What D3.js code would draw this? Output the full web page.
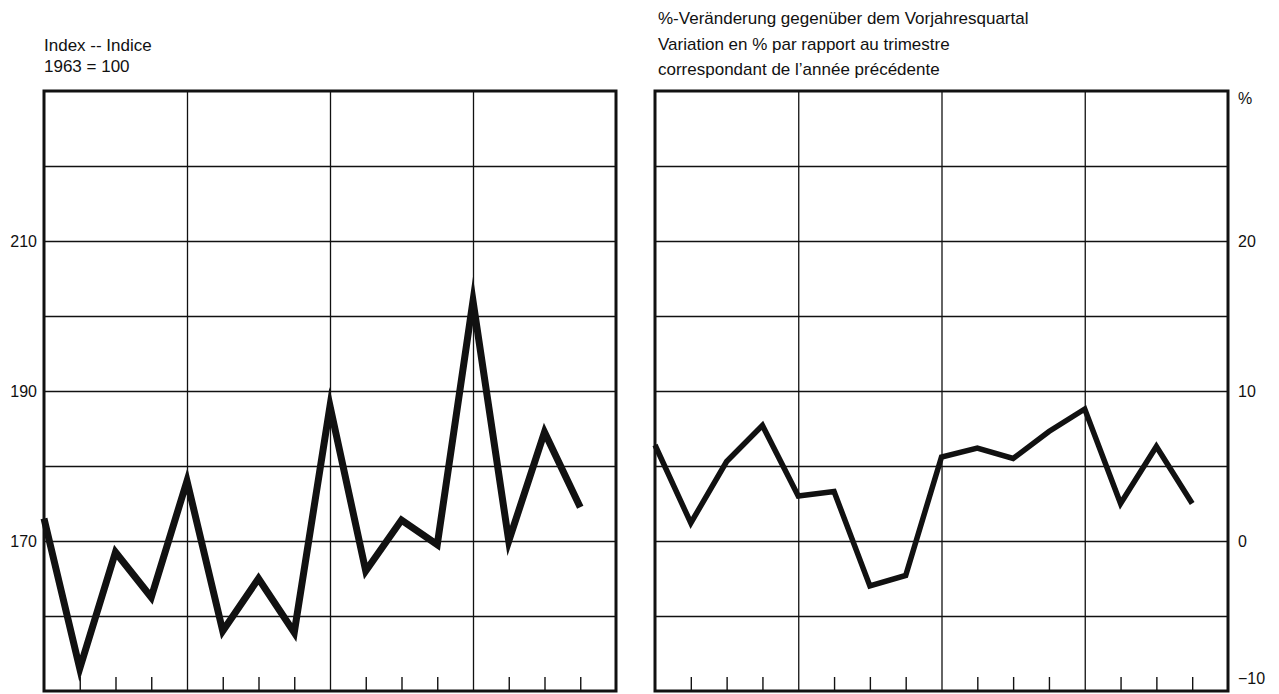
<!DOCTYPE html>
<html>
<head>
<meta charset="utf-8">
<script src="https://cdn.jsdelivr.net/npm/d3@7"></script>
<style>
  html, body { margin: 0; padding: 0; background: #fff; }
  svg { display: block; }
  text { font-family: "Liberation Sans", Arial, Helvetica, sans-serif; fill: #111; }
</style>
</head>
<body>
<svg id="chart" width="1279" height="694"></svg>
<script>
// Quarter positions (0 = first quarter of the first year, 16 quarters across)
const quarters = d3.range(16);

// Index, 1963 = 100
const indexValues = [173, 153, 168.5, 162.5, 178, 158, 165, 157.8,
                     188, 166, 172.8, 169.5, 202, 170, 184.5, 174.5];

// Change against the same quarter of the previous year, in %
const changeValues = [6.4, 1.2, 5.3, 7.7, 3.0, 3.3, -3.0, -2.3,
                      5.6, 6.2, 5.5, 7.3, 8.8, 2.5, 6.3, 2.5];

const indexTicks = [170, 190, 210];
const changeTicks = [-10, 0, 10, 20];

const leftTitle = ["Index -- Indice", "1963 = 100"];
const rightTitle = ["%-Veränderung gegenüber dem Vorjahresquartal",
                    "Variation en % par rapport au trimestre",
                    "correspondant de l\u2019année précédente"];

const svg = d3.select("#chart");
const plotTop = 91, plotBottom = 691;

function panel(x0, x1, yDomain, gridStep, values, lineWidth) {
  const g = svg.append("g");
  const x = d3.scaleLinear().domain([0, 16]).range([x0, x1]);
  const y = d3.scaleLinear().domain(yDomain).range([plotBottom, plotTop]);

  // horizontal grid lines
  const hVals = d3.range(yDomain[0] + gridStep, yDomain[1], gridStep);
  g.append("g")
    .attr("transform", `translate(${x0},0)`)
    .call(d3.axisLeft(y).tickValues(hVals).tickSize(-(x1 - x0)).tickFormat(""))
    .call(a => a.select(".domain").remove())
    .call(a => a.selectAll("line").attr("stroke", "#111").attr("stroke-width", 1.4));

  // year separators
  g.append("g")
    .attr("transform", `translate(0,${plotBottom})`)
    .call(d3.axisBottom(x).tickValues([4, 8, 12]).tickSize(-(plotBottom - plotTop)).tickFormat(""))
    .call(a => a.select(".domain").remove())
    .call(a => a.selectAll("line").attr("stroke", "#111").attr("stroke-width", 1.3));

  // quarter ticks along the bottom
  g.append("g")
    .attr("transform", `translate(0,${plotBottom})`)
    .call(d3.axisBottom(x).tickValues(quarters.filter(q => q % 4 !== 0)).tickSize(-14).tickFormat(""))
    .call(a => a.select(".domain").remove())
    .call(a => a.selectAll("line").attr("stroke", "#111").attr("stroke-width", 1.4));

  // frame
  g.append("rect")
    .attr("x", x0).attr("y", plotTop)
    .attr("width", x1 - x0).attr("height", plotBottom - plotTop)
    .attr("fill", "none").attr("stroke", "#111").attr("stroke-width", 3);

  // data line
  g.append("path")
    .datum(values)
    .attr("fill", "none")
    .attr("stroke", "#111")
    .attr("stroke-width", lineWidth)
    .attr("stroke-linejoin", "miter")
    .attr("stroke-miterlimit", 12)
    .attr("d", d3.line().x((d, i) => x(i)).y(d => y(d)));

  return { g, x, y };
}

// Left panel: index
const L = panel(44, 616, [150, 230], 10, indexValues, 7);
L.g.append("g")
  .attr("transform", "translate(44,0)")
  .call(d3.axisLeft(L.y).tickValues(indexTicks).tickSize(0).tickPadding(7))
  .call(a => a.select(".domain").remove())
  .call(a => a.selectAll("text").style("font-size", "16px").attr("fill", "#111")
    .style("font-family", "'Liberation Sans', Arial, sans-serif"));

svg.append("text").attr("x", 44).attr("y", 51).style("font-size", "17px").text(leftTitle[0]);
svg.append("text").attr("x", 44).attr("y", 72).style("font-size", "17px").text(leftTitle[1]);

// Right panel: percentage change
const R = panel(655, 1228, [-10, 30], 5, changeValues, 5.5);
R.g.append("g")
  .attr("transform", "translate(1228,0)")
  .call(d3.axisRight(R.y).tickValues(changeTicks).tickSize(0).tickPadding(10))
  .call(a => a.select(".domain").remove())
  .call(a => a.selectAll("text").style("font-size", "16px").attr("fill", "#111")
    .style("font-family", "'Liberation Sans', Arial, sans-serif"))
  .call(a => a.selectAll(".tick").filter(d => d === -10).select("text").attr("dy", "-0.5em"));

svg.append("text").attr("x", 1238).attr("y", 104).style("font-size", "16px").text("%");

rightTitle.forEach((t, i) => {
  svg.append("text").attr("x", 658).attr("y", 24 + i * 25.5).style("font-size", "17px").text(t);
});
</script>
</body>
</html>
